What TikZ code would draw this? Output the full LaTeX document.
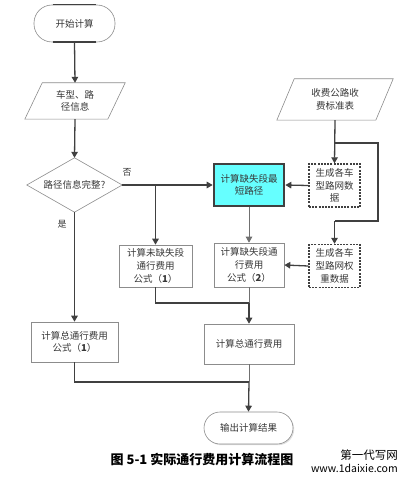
\documentclass[tikz,border=0pt]{standalone}
\usepackage{fontspec}
\setmainfont{Noto Sans CJK SC}
\usetikzlibrary{arrows.meta,calc,shadows}
\definecolor{ln}{RGB}{64,64,64}
\definecolor{bd}{RGB}{140,140,140}
\definecolor{cy}{RGB}{102,255,255}
\definecolor{tx}{RGB}{55,55,55}
\begin{document}
\begin{tikzpicture}[x=1pt,y=-1pt,
  every node/.style={font=\fontsize{9.5}{12.7}\selectfont, align=center, inner sep=0pt, text=tx},
  shd/.style={drop shadow={shadow xshift=1.2pt, shadow yshift=-1.2pt, opacity=0.25}},
  box/.style={rectangle, draw=bd, line width=0.6pt, fill=white, shd},
  dbox/.style={rectangle, draw=ln, line width=1.4pt, dash pattern=on 2pt off 1.2pt, fill=white, minimum width=51pt, minimum height=43pt},
  ghost/.style={rectangle},
  con/.style={draw=ln, line width=1.3pt},
  arr/.style={con, -{Triangle[length=6pt,width=6.5pt]}},
  lite/.style={draw=ln!75, line width=0.9pt},
  lbl/.style={font=\fontsize{9}{11}\selectfont}
]
\useasboundingbox (0,0) rectangle (409,481);
% start terminal
\node[draw=bd, line width=0.6pt, rounded corners=18pt, minimum width=81pt, minimum height=37pt, fill=white] (start) at (74.5,23.5) {开始计算};
\draw[ln, line width=0.8pt] ($(start.north west)+(19,0)$) -- ($(start.north east)+(-19,0)$);
\draw[ln, line width=1.8pt] ($(start.south west)+(19,0)$) -- ($(start.south east)+(-19,0)$);
% input 1
\node[ghost, minimum width=100pt, minimum height=36pt] (in1) at (75,101) {};
\draw[bd, line width=0.6pt, fill=white] (in1.south west) -- ++(83,0) -- (in1.north east) -- ++(-83,0) -- cycle;
\node at (in1) {车型、路\\径信息};
% decision
\node[ghost, minimum width=95pt, minimum height=54pt] (dec) at (74.5,185) {};
\draw[bd, line width=0.6pt, fill=white] (dec.north) -- (dec.east) -- (dec.south) -- (dec.west) -- cycle;
\node at (dec) {路径信息完整?};
% cyan box
\node[rectangle, draw=ln, line width=2.6pt, fill=cy, minimum width=70pt, minimum height=42pt, shd] (cs) at (249,185) {计算缺失段最\\短路径};
% input 2
\node[ghost, minimum width=116pt, minimum height=41pt] (in2) at (335,99.5) {};
\draw[bd, line width=0.6pt, fill=white] (in2.south west) -- ++(99,0) -- (in2.north east) -- ++(-99,0) -- cycle;
\node at (in2) {收费公路收\\费标准表};
% dashed boxes
\node[dbox] (d1) at (334.5,185.5) {生成各车\\型路网数\\据};
\node[dbox] (d2) at (334.5,266) {生成各车\\型路网权\\重数据};
% boxes
\node[box, minimum width=73pt, minimum height=42pt] (c1) at (155.5,266) {计算未缺失段\\通行费用\\公式（\textbf{1}）};
\node[box, minimum width=70pt, minimum height=44pt] (c2) at (249,265) {计算缺失段通\\行费用\\公式（\textbf{2}）};
\node[box, minimum width=87pt, minimum height=40pt] (t1) at (74.5,342) {计算总通行费用\\公式（\textbf{1}）};
\node[box, minimum width=90pt, minimum height=40pt] (t2) at (249,344) {计算总通行费用};
\node[draw=bd, line width=0.6pt, rounded corners=16pt, minimum width=89pt, minimum height=32pt, fill=white, shd] (endt) at (248.5,428) {输出计算结果};
% coordinates
\coordinate (b1) at (155.5,185);
\coordinate (j1) at (335,143);
\coordinate (r1) at (378,143);
\coordinate (r2) at (378,221);
\coordinate (r3) at (334.5,221);
\coordinate (j2) at (249,303);
\coordinate (j3) at (249,382);
% connectors
\draw[arr] (start.south) -- (in1.north);
\draw[arr] (in1.south) -- (dec.north);
\draw[arr] (dec.east) -- (cs.west);
\draw[arr] (b1) -- (c1.north);
\draw[arr] (dec.south) -- (t1.north);
\draw[arr] (in2.south) -- (d1.north);
\draw[con] (j1) -- (r1) -- (r2) -- (r3);
\draw[arr] (r3) -- (d2.north);
\draw[arr] (d1.west) -- (cs.east);
\draw[arr] (d2.west) -- (c2.east);
\draw[lite, -{Triangle[length=6pt,width=6.5pt]}] (cs.south) -- (c2.north);
\draw[con] (c1.south) |- (j2);
\draw[lite] (c2.south) -- (j2);
\draw[arr] (j2) -- (t2.north);
\draw[con] (t1.south) |- (j3);
\draw[lite] (t2.south) -- (j3);
\draw[arr] (j3) -- (endt.north);
% labels
\node[lbl] (no) at (127,172) {否};
\node[lbl] (yes) at (62,224) {是};
\node[font=\fontsize{13}{15}\selectfont\bfseries, text=black] (cap) at (202,459) {图 5-1 实际通行费用计算流程图};
\node[font=\fontsize{11.5}{13}\selectfont, anchor=east, text=black] (wm1) at (398,455) {第一代写网};
\node[font=\fontsize{10.5}{12}\selectfont, anchor=east, text=black] (wm2) at (398,468) {www.1daixie.com};
\end{tikzpicture}
\end{document}
